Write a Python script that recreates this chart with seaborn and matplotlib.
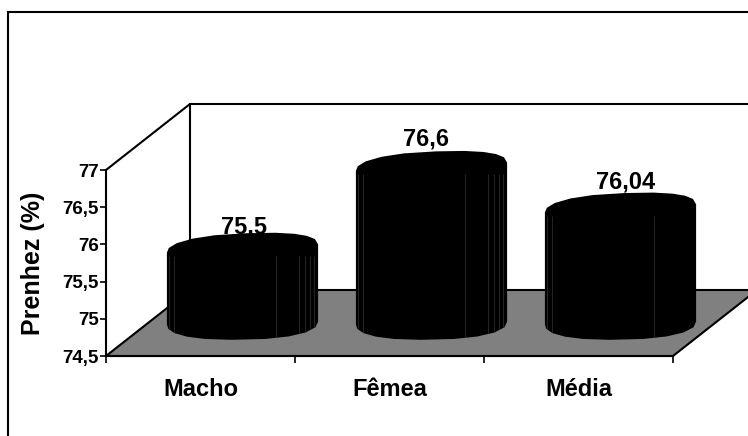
import numpy as np
import pandas as pd
import matplotlib
matplotlib.use("Agg")
import matplotlib.pyplot as plt
from matplotlib.patches import Polygon, Rectangle
from matplotlib.transforms import Affine2D
import seaborn as sns

categories = ["Macho", "Fêmea", "Média"]
pregnancy = [75.5, 76.6, 76.04]
value_labels = ["75,5", "76,6", "76,04"]
y_ticks = [74.5, 75, 75.5, 76, 76.5, 77]
y_tick_labels = ["74,5", "75", "75,5", "76", "76,5", "77"]

# small label shifts, in pixels, keeping the labels clear of the rims
label_dx = [2, -5, 5]
label_dy = [0, 6, 5]

sns.set_theme(style="white")
plt.rcParams["font.family"] = ["Liberation Sans", "DejaVu Sans"]
plt.rcParams["font.weight"] = "bold"

W, H = 748, 436
fig = plt.figure(figsize=(W / 100, H / 100), dpi=100, facecolor="white")
ax = fig.add_axes([106 / W, 1 - 356 / H, (673 - 106) / W, (356 - 170) / H])
ax.set_facecolor("none")

df = pd.DataFrame({"sexo": categories, "prenhez": pregnancy})
sns.barplot(data=df, x="sexo", y="prenhez", color="black", width=0.8,
            saturation=1, ax=ax, zorder=5)

x0, x1, y0, y1 = -0.5, 2.5, 74.5, 77
ax.set_xlim(x0, x1)
ax.set_ylim(y0, y1)

# oblique depth of the box, in data units
depth_x, depth_y = 84 / 189, 66 / 74.4
LW = 1.5

floor = Polygon([(x0, y0), (x1, y0), (x1 + depth_x, y0 + depth_y), (x0 + depth_x, y0 + depth_y)],
                closed=True, facecolor="#808080", edgecolor="black", lw=LW,
                clip_on=False, zorder=1, joinstyle="miter")
ax.add_patch(floor)
ax.plot([x0, x0 + depth_x, x0 + depth_x], [y1, y1 + depth_y, y0 + depth_y],
        color="black", lw=LW, clip_on=False, zorder=1)
ax.plot([x0 + depth_x, x1 + depth_x], [y1 + depth_y, y1 + depth_y],
        color="black", lw=LW, clip_on=False, zorder=1)

# cylinders stand mid-way along the floor depth
shift_x, shift_y = depth_x / 2, (356 - 323) / 74.4
bar_shift = Affine2D().translate(43, 33) + ax.transData

# coarse facet angles give the rim its polygonal look
rim_top = np.radians([180, 166, 148, 128, 108, 88, 68, 50, 34, 18, 0])
rim_bottom = np.radians([0, -16, -36, -56, -76, -96, -116, -134, -152, -168, -180])
rim_semi_top, rim_semi_bottom = 0.205, 0.225
seam_fractions = [0.013, 0.05, 0.72, 0.874, 0.914, 0.947, 0.974]


def squarish(values, power=0.85):
    return np.sign(values) * np.abs(values) ** power


for bar, value, text, dx, dy in zip(ax.patches, pregnancy, value_labels, label_dx, label_dy):
    half = bar.get_width() / 2
    cx = bar.get_x() + half + shift_x
    top = value + shift_y
    base = y0 + shift_y
    top_pts = [(cx + half * squarish(np.cos(t)), top + rim_semi_top * squarish(np.sin(t)) + 0.055 * np.cos(t))
               for t in rim_top]
    bot_pts = [(cx + half * squarish(np.cos(t)), base + rim_semi_bottom * squarish(np.sin(t)) + 0.02 * np.cos(t))
               for t in rim_bottom]
    body = Polygon(top_pts + bot_pts, closed=True, facecolor="black", edgecolor="none",
                   clip_on=False, zorder=4)
    ax.add_patch(body)
    bar.set_transform(bar_shift)
    bar.set_clip_path(body)
    seams = [cx - half + f * 2 * half for f in seam_fractions]
    seam_lines = ax.vlines(seams, base - rim_semi_bottom, top - 0.1, colors="#2a2a2a",
                           lw=0.6, zorder=6)
    seam_lines.set_clip_path(body)
    ax.annotate(text, xy=(cx, top + rim_semi_top), xytext=(dx * 0.72, dy * 0.72),
                textcoords="offset points", ha="center", va="baseline", fontsize=17,
                color="black", annotation_clip=False, zorder=3, fontweight="bold")

# axes: spines on the front plane, ticks between the categories
sns.despine(ax=ax, top=True, right=True)
for side in ("left", "bottom"):
    ax.spines[side].set_color("black")
    ax.spines[side].set_linewidth(LW)
    ax.spines[side].set_zorder(7)
ax.set_yticks(y_ticks, y_tick_labels)
ax.tick_params(axis="y", length=4, width=1.2, color="black", labelsize=13.5, pad=1,
               left=True, labelcolor="black")
ax.set_xticks(range(len(categories)), categories)
ax.tick_params(axis="x", which="major", length=0, labelsize=17, pad=16, labelcolor="black")
ax.set_xticks(np.arange(x0, x1 + 1), minor=True)
ax.tick_params(axis="x", which="minor", length=5, width=1.2, color="black", bottom=True)
ax.set_xlabel("")
ax.set_ylabel("Prenhez (%)", fontsize=18, fontweight="bold", color="black", labelpad=13)

# chart-area border, running off the canvas on the right and bottom
fig.add_artist(Rectangle((8 / W, -0.1), 1.1, 1.1 - 12 / H, transform=fig.transFigure,
                         facecolor="none", edgecolor="black", lw=LW, zorder=0))

fig.savefig("out.png", dpi=100)
